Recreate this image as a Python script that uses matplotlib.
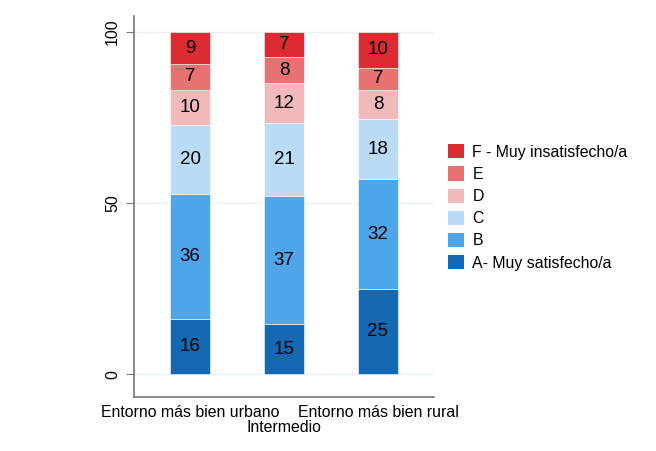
import numpy as np
import matplotlib.pyplot as plt
import matplotlib.transforms as mtransforms
from matplotlib.patches import Patch

plt.rcParams['font.family'] = ['Liberation Sans', 'DejaVu Sans']

categories = ["Entorno más bien urbano", "Intermedio", "Entorno más bien rural"]
levels = ["A- Muy satisfecho/a", "B", "C", "D", "E", "F - Muy insatisfecho/a"]
# percentages per level (A..F) for each category
A = [16.3, 14.7, 25.0]
B = [36.4, 37.3, 32.0]
C = [20.2, 21.3, 17.6]
D = [10.3, 11.7, 8.4]
E = [7.4, 7.6, 6.6]
F = [9.4, 7.4, 10.4]
series = [A, B, C, D, E, F]
colors = ["#1569b3", "#4fa5ea", "#b9dbf6", "#f2b9ba", "#e87272", "#dc2b31"]

fig = plt.figure(figsize=(6.56, 4.51), dpi=100)
ax = fig.add_axes([0.2043, 0.1197, 0.4573, 0.8448])

x = np.arange(len(categories))
bottom = np.zeros(len(categories))
for vals, col in zip(series, colors):
    vals = np.array(vals)
    ax.bar(x, vals, bottom=bottom, width=0.426, color=col,
           edgecolor="white", linewidth=0.4, zorder=2)
    for xi, b, v in zip(x, bottom, vals):
        ax.text(xi, b + v / 2, "%.0f" % v, ha="center", va="center",
                fontsize=13.5, color="black", zorder=3)
    bottom += vals

ax.set_xlim(-0.596, 2.596)
ax.set_ylim(-6.6, 104.7)
ax.set_yticks([0, 50, 100])
ax.set_yticklabels(["0", "50", "100"], rotation=90, va="center", fontsize=11.5)
ax.set_xticks(x)
ax.set_xticklabels(categories, fontsize=11.4)
ax.tick_params(axis="x", length=0, pad=6)
ax.tick_params(axis="y", length=6, color="#777777", pad=4)
ax.grid(axis="y", color="#eaf1f3", linewidth=1.0, zorder=0)

# staggered middle label
lab = ax.get_xticklabels()[1]
lab.set_transform(lab.get_transform() +
                  mtransforms.ScaledTranslation(0, -15 / 100, fig.dpi_scale_trans))

for s in ["top", "right"]:
    ax.spines[s].set_visible(False)
for s in ["left", "bottom"]:
    ax.spines[s].set_color("#777777")
    ax.spines[s].set_linewidth(1.2)

handles = [Patch(facecolor=c, edgecolor="none") for c in colors[::-1]]
fig.legend(handles, levels[::-1], loc="center left",
           bbox_to_anchor=(0.661, 0.54), frameon=False, fontsize=11.4,
           handlelength=1.0, handleheight=1.0, handletextpad=0.55,
           labelspacing=0.42)

fig.savefig("out.png", dpi=100)
